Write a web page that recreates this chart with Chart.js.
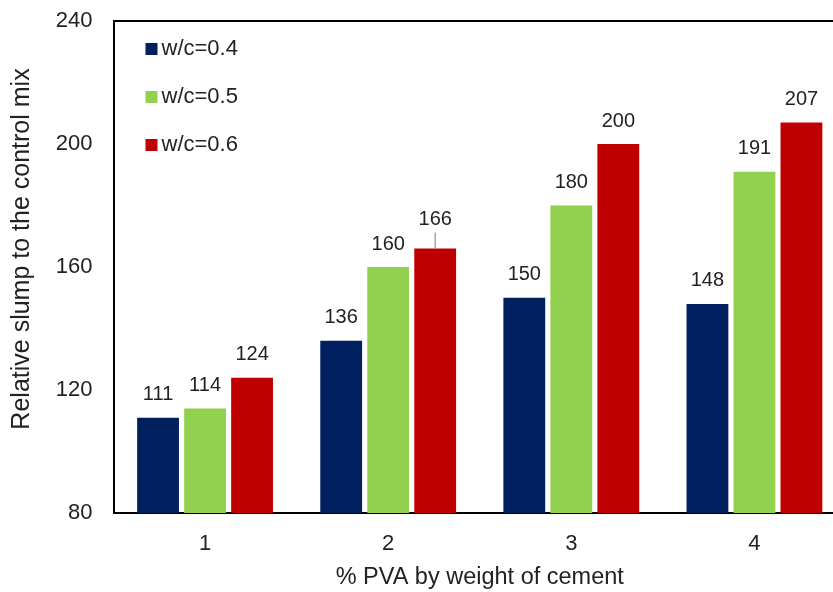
<!DOCTYPE html>
<html>
<head>
<meta charset="utf-8">
<script src="https://cdn.jsdelivr.net/npm/chart.js@4/dist/chart.umd.min.js"></script>
<style>
  html, body { margin: 0; padding: 0; background: #fff; overflow: hidden; }
  #wrap { width: 860px; height: 592px; }
</style>
</head>
<body>
<div id="wrap"><canvas id="myChart"></canvas></div>
<script>
const categories = ['1', '2', '3', '4'];
const wc04 = [111, 136, 150, 148];
const wc05 = [114, 160, 180, 191];
const wc06 = [124, 166, 200, 207];
const seriesLabels = ['w/c=0.4', 'w/c=0.5', 'w/c=0.6'];
const yTicks = [80, 120, 160, 200, 240];
const yTitle = 'Relative slump to the control mix';

const font = 'Arial, "Liberation Sans", sans-serif';
Chart.defaults.font.family = font;
Chart.defaults.color = '#222';

// value labels above bars (166 is lifted with a leader line)
const valueLabels = {
    id: 'valueLabels',
    afterDatasetsDraw(chart) {
        const ctx = chart.ctx;
        ctx.save();
        ctx.font = '20px ' + font;
        ctx.fillStyle = '#222';
        ctx.textAlign = 'center';
        ctx.textBaseline = 'middle';
        chart.data.datasets.forEach((ds, di) => {
            chart.getDatasetMeta(di).data.forEach((bar, i) => {
                let y = bar.y - 23;
                if (di === 2 && i === 1) {
                    y = bar.y - 29;
                    ctx.strokeStyle = '#a6a6a6';
                    ctx.lineWidth = 1.5;
                    ctx.beginPath();
                    ctx.moveTo(bar.x, bar.y);
                    ctx.lineTo(bar.x, y + 13);
                    ctx.stroke();
                }
                ctx.fillText(ds.data[i], bar.x, y);
            });
        });
        ctx.restore();
    }
};

// legend inside the plot, top frame line, y title (sits a bit above centre)
const frame = {
    id: 'frame',
    afterDraw(chart) {
        const ctx = chart.ctx;
        const a = chart.chartArea;
        ctx.save();
        ctx.strokeStyle = '#000';
        ctx.lineWidth = 2;
        ctx.beginPath();
        ctx.moveTo(a.left, a.top);
        ctx.lineTo(a.right, a.top);
        ctx.stroke();
        ctx.font = '22px ' + font;
        ctx.textBaseline = 'middle';
        chart.data.datasets.forEach((ds, i) => {
            const y = a.top + 28 + i * 48;
            ctx.fillStyle = ds.backgroundColor;
            ctx.fillRect(a.left + 32, y - 6, 12, 12);
            ctx.fillStyle = '#222';
            ctx.fillText(ds.label, a.left + 48, y);
        });
        ctx.translate(22, (a.top + a.bottom) / 2 - 18);
        ctx.rotate(-Math.PI / 2);
        ctx.font = '25px ' + font;
        ctx.textAlign = 'center';
        ctx.fillText(yTitle, 0, 0);
        ctx.restore();
    }
};

new Chart(document.getElementById('myChart').getContext('2d'), {
    type: 'bar',
    data: {
        labels: categories,
        datasets: [
            { label: seriesLabels[0], data: wc04, backgroundColor: '#002060' },
            { label: seriesLabels[1], data: wc05, backgroundColor: '#92D050' },
            { label: seriesLabels[2], data: wc06, backgroundColor: '#C00000' }
        ]
    },
    options: {
        responsive: true,
        maintainAspectRatio: false,
        animation: false,
        layout: { padding: { top: 21, right: 14, left: 0, bottom: 0 } },
        plugins: { legend: { display: false }, tooltip: { enabled: false } },
        datasets: { bar: { categoryPercentage: 0.77, barPercentage: 0.89 } },
        scales: {
            x: {
                grid: { display: false, drawTicks: false },
                border: { color: '#000', width: 2 },
                ticks: { font: { size: 22 }, padding: 18, color: '#222' },
                title: { display: true, text: '% PVA by weight of cement', font: { size: 23.5 }, color: '#222', padding: { top: 8, bottom: 0 } },
                afterFit: s => { s.height = 79; s.paddingLeft = 0; s.paddingRight = 0; }
            },
            y: {
                min: 80, max: 240,
                afterBuildTicks: s => { s.ticks = yTicks.map(v => ({ value: v })); },
                grid: { display: false, drawTicks: false },
                border: { color: '#000', width: 2 },
                ticks: { font: { size: 22 }, padding: 21, color: '#222' },
                afterFit: s => { s.width = 113.5; s.paddingTop = 0; s.paddingBottom = 0; }
            }
        }
    },
    plugins: [valueLabels, frame]
});
</script>
</body>
</html>
